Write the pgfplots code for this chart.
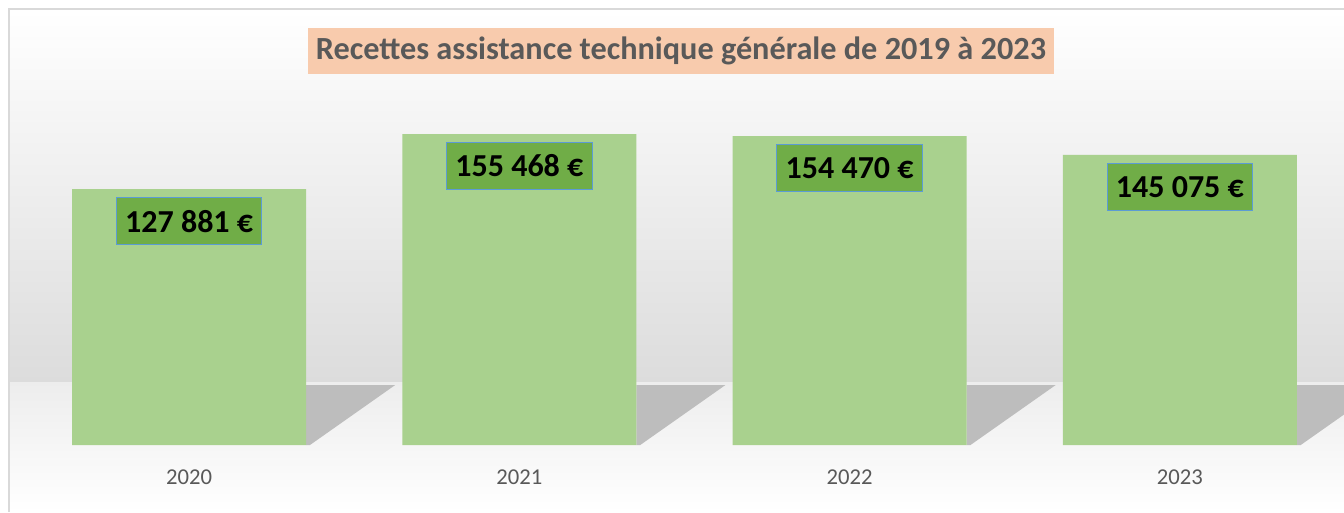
\documentclass[border=0pt]{standalone}
\usepackage{pgfplots}
\pgfplotsset{compat=1.18}
\usepackage{fontspec}
\setmainfont{Carlito}
\definecolor{barfill}{HTML}{A9D18E}
\definecolor{labfill}{HTML}{70AD47}
\definecolor{labdraw}{HTML}{5B9BD5}
\definecolor{titlefill}{HTML}{F8CBAD}
\definecolor{txtgray}{HTML}{595959}
\definecolor{bordergray}{HTML}{D9D9D9}
\definecolor{wallgray}{HTML}{DCDCDC}
\definecolor{floorgray}{HTML}{EDEDED}
\definecolor{shadowgray}{HTML}{BDBDBD}
\begin{document}
\begin{tikzpicture}[x=0.75pt,y=0.75pt]
\useasboundingbox (0,0) rectangle (1344,512);
% background: wall and floor
\shade[top color=white,bottom color=wallgray] (10,130) rectangle (1344,502);
\shade[top color=floorgray,bottom color=white] (10,0) rectangle (1344,130);
% frame
\draw[bordergray,line width=1.5pt] (9,0) -- (9,503) -- (1344,503);
\begin{axis}[
  at={(18pt,50.25pt)}, anchor=south west,
  scale only axis,
  width=990.75pt, height=240pt,
  xmin=-0.5, xmax=3.5, ymin=0, ymax=160000,
  axis line style={draw=none},
  ytick=\empty,
  xtick=data,
  xticklabels={2020,2021,2022,2023},
  major tick length=0pt,
  xticklabel style={anchor=center,yshift=-24pt,font=\fontsize{17}{20}\selectfont,text=txtgray},
  ybar, bar width=175.5pt,
  clip=false,
  nodes near coords,
  point meta=explicit symbolic,
  every node near coord/.append style={anchor=center,yshift=-24pt,
     fill=labfill,draw=labdraw,line width=0.75pt,text=black,
     font=\fontsize{24}{28}\selectfont\bfseries,
     inner xsep=6.5pt,minimum height=35.25pt},
]
\fill[shadowgray] (axis cs:0.354,0) -- (axis cs:0.354,30000) -- (axis cs:0.624,30000) -- (axis cs:0.366,0) -- cycle;
\fill[shadowgray] (axis cs:1.354,0) -- (axis cs:1.354,30000) -- (axis cs:1.624,30000) -- (axis cs:1.366,0) -- cycle;
\fill[shadowgray] (axis cs:2.354,0) -- (axis cs:2.354,30000) -- (axis cs:2.624,30000) -- (axis cs:2.366,0) -- cycle;
\fill[shadowgray] (axis cs:3.354,0) -- (axis cs:3.354,30000) -- (axis cs:3.624,30000) -- (axis cs:3.366,0) -- cycle;
\addplot[fill=barfill,draw=none] coordinates {
  (0,127881) [127 881 €]
  (1,155468) [155 468 €]
  (2,154470) [154 470 €]
  (3,145075) [145 075 €]
};
\end{axis}
\node[fill=titlefill,text=txtgray,font=\fontsize{24.2}{28}\selectfont\bfseries,
  inner xsep=6pt,minimum height=34pt] at (681,461) {Recettes assistance technique générale de 2019 à 2023};
\end{tikzpicture}
\end{document}
